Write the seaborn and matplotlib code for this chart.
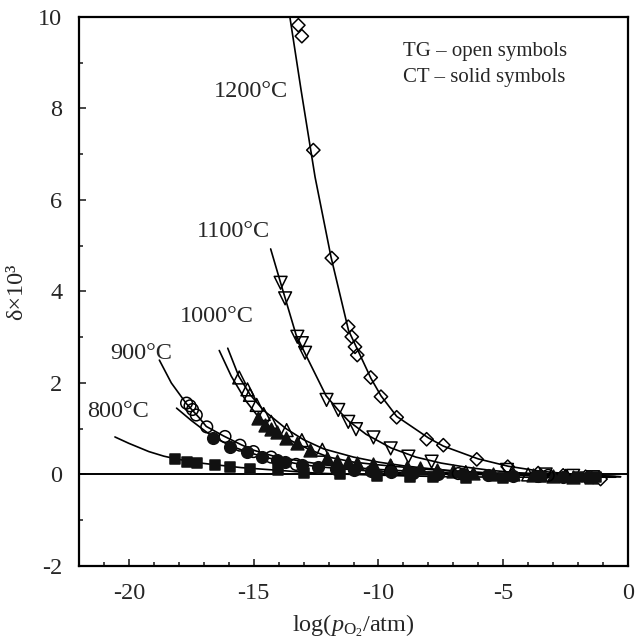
import numpy as np
import pandas as pd
import matplotlib
matplotlib.use('Agg')
import matplotlib.pyplot as plt
import seaborn as sns
from matplotlib.ticker import MultipleLocator

# ---------------- data ----------------
# 1200 C, TG (open diamonds)
x1200 = [-13.21, -13.07, -12.61, -11.87, -11.21, -11.07, -10.94, -10.85, -10.31, -9.90,
         -9.27, -8.07, -7.40, -6.06, -4.82, -3.6, -2.6, -1.7, -1.1]
y1200 = [9.82, 9.58, 7.09, 4.73, 3.23, 3.01, 2.79, 2.61, 2.12, 1.70,
         1.25, 0.77, 0.64, 0.33, 0.17, 0.03, -0.02, -0.05, -0.10]
# 1100 C, TG (open down-triangles)
x1100 = [-13.92, -13.74, -13.25, -13.07, -12.94, -12.08, -11.61, -11.21, -10.90, -10.20,
         -9.51, -8.80, -7.87, -4.85, -3.3, -2.2, -1.4]
y1100 = [4.19, 3.85, 3.01, 2.87, 2.66, 1.63, 1.41, 1.15, 0.99, 0.81,
         0.57, 0.39, 0.28, 0.10, 0.0, -0.03, -0.06]
# 1000 C, TG (open up-triangles)
x1000_tg = [-15.58, -15.25, -15.15, -14.88, -14.6, -14.3, -13.68, -13.07, -12.25, -9.5, -6.5, -4.0, -2.5]
y1000_tg = [2.12, 1.86, 1.74, 1.52, 1.32, 1.15, 0.97, 0.75, 0.54, 0.18, 0.05, 0.0, -0.03]
# 1000 C, CT (solid up-triangles)
x1000_ct = [-14.81, -14.55, -14.3, -14.08, -13.70, -13.28, -12.74, -12.08, -11.68, -11.21,
            -10.87, -10.20, -9.53, -8.87, -8.33, -7.66, -7.0, -6.2, -5.4, -4.6,
            -3.8, -3.0, -2.2, -1.5]
y1000_ct = [1.23, 1.08, 1.0, 0.92, 0.80, 0.68, 0.54, 0.35, 0.30, 0.28,
            0.24, 0.22, 0.20, 0.17, 0.14, 0.10, 0.07, 0.04, 0.02, 0.0,
            -0.02, -0.03, -0.05, -0.06]
# 900 C, TG (open circles)
x900_tg = [-17.69, -17.55, -17.45, -17.3, -16.88, -16.15, -15.55, -15.01, -14.3, -13.3, -9.5, -6.8, -3.2]
y900_tg = [1.56, 1.50, 1.42, 1.30, 1.04, 0.83, 0.64, 0.50, 0.38, 0.22, 0.08, 0.02, -0.02]
# 900 C, CT (solid circles)
x900_ct = [-16.62, -15.95, -15.28, -14.68, -14.08, -13.74, -13.08, -12.41, -11.7, -11.0,
           -10.3, -9.5, -8.6, -7.6, -6.6, -5.6, -4.6, -3.6, -2.6, -1.6]
y900_ct = [0.80, 0.61, 0.50, 0.39, 0.32, 0.28, 0.21, 0.17, 0.13, 0.10,
           0.08, 0.05, 0.03, 0.01, 0.0, -0.02, -0.03, -0.04, -0.05, -0.06]
# 800 C, CT (solid squares)
x800 = [-18.15, -17.69, -17.29, -16.55, -15.95, -15.15, -14.01, -13.0, -11.54, -10.07,
        -8.73, -7.8, -6.5, -5.0, -3.5, -2.0, -1.3]
y800 = [0.34, 0.28, 0.24, 0.21, 0.17, 0.13, 0.10, 0.04, 0.0, -0.03,
        -0.05, -0.06, -0.07, -0.07, -0.06, -0.05, -0.06]

# fitted curves
cx1200 = [-13.55, -13.1, -12.54, -11.9, -11.2, -10.3, -9.9, -9.27, -8.0, -7.4, -6.0, -4.8, -3.5, -2.5, -1.0, -0.3]
cy1200 = [10.0, 8.4, 6.5, 4.75, 3.15, 2.1, 1.72, 1.27, 0.8, 0.62, 0.34, 0.18, 0.07, 0.02, -0.03, -0.05]
cx1100 = [-14.32, -13.9, -13.3, -12.9, -12.1, -11.6, -11.2, -10.5, -9.5, -8.5, -7.5, -6.5, -5.5, -4.5, -3.0, -1.0, -0.3]
cy1100 = [4.93, 4.15, 3.05, 2.6, 1.72, 1.4, 1.17, 0.88, 0.58, 0.38, 0.25, 0.16, 0.09, 0.04, 0.0, -0.04, -0.05]
cx1000_ct = [-16.38, -15.9, -15.3, -14.8, -14.1, -13.3, -12.7, -12.0, -11.0, -10.0, -9.0, -8.0, -7.0, -5.5, -4.0, -2.0, -0.5]
cy1000_ct = [2.71, 2.15, 1.6, 1.25, 0.92, 0.68, 0.53, 0.38, 0.27, 0.21, 0.16, 0.11, 0.07, 0.03, 0.0, -0.03, -0.05]
cx1000_tg = [-16.04, -15.6, -15.15, -14.6, -13.7, -13.0, -12.2, -11.0, -10.0, -9.0, -8.0, -7.0, -5.5, -4.0, -2.0, -0.5]
cy1000_tg = [2.76, 2.15, 1.75, 1.4, 1.0, 0.76, 0.56, 0.38, 0.27, 0.19, 0.13, 0.08, 0.03, 0.0, -0.03, -0.05]
cx900_tg = [-18.78, -18.3, -17.7, -17.2, -16.9, -16.2, -15.5, -15.0, -14.2, -13.0, -12.0, -11.0, -10.0, -9.0, -7.5, -6.0, -4.0, -2.0, -0.5]
cy900_tg = [2.50, 2.0, 1.55, 1.25, 1.05, 0.84, 0.65, 0.53, 0.40, 0.28, 0.2, 0.15, 0.11, 0.08, 0.04, 0.01, -0.02, -0.04, -0.05]
cx900_ct = [-18.09, -17.5, -16.9, -16.6, -15.95, -15.3, -14.7, -14.1, -13.1, -12.4, -11.0, -9.5, -8.0, -6.0, -4.0, -2.0, -0.5]
cy900_ct = [1.45, 1.18, 0.93, 0.82, 0.63, 0.5, 0.4, 0.32, 0.22, 0.17, 0.1, 0.05, 0.02, 0.0, -0.02, -0.04, -0.05]
cx800 = [-20.56, -20.0, -19.2, -18.6, -18.1, -17.3, -16.5, -15.5, -14.0, -12.5, -11.0, -9.0, -7.0, -5.0, -3.0, -1.0, -0.5]
cy800 = [0.82, 0.68, 0.5, 0.4, 0.34, 0.26, 0.21, 0.15, 0.09, 0.03, 0.0, -0.03, -0.05, -0.06, -0.06, -0.06, -0.06]

temp_labels = ['1200°C', '1100°C', '1000°C', '900°C', '800°C']
legend_lines = ['TG – open symbols', 'CT – solid symbols']
x_ticks = [-20, -15, -10, -5, 0]
y_ticks = [-2, 0, 2, 4, 6, 8, 10]

# ---------------- style ----------------
sns.set_style('ticks')
plt.rcParams['font.family'] = ['Liberation Serif', 'DejaVu Serif']
plt.rcParams['mathtext.fontset'] = 'custom'
plt.rcParams['mathtext.rm'] = 'Liberation Serif'
plt.rcParams['mathtext.it'] = 'Liberation Serif:italic'

fig = plt.figure(figsize=(6.35, 6.38), dpi=100)
ax = fig.add_axes([0.1244, 0.1129, 0.8646, 0.8605])

# zero line
ax.axhline(0, color='black', lw=1.4, zorder=1)

# curves
curves = [(cx1200, cy1200), (cx1100, cy1100), (cx1000_ct, cy1000_ct), (cx1000_tg, cy1000_tg),
          (cx900_tg, cy900_tg), (cx900_ct, cy900_ct), (cx800, cy800)]
for cx, cy in curves:
    sns.lineplot(x=cx, y=cy, sort=False, estimator=None, color='black', lw=1.2, ax=ax, zorder=2)

# markers
lw_m = 1.1
sns.scatterplot(x=x1200, y=y1200, marker='D', s=46, facecolors='none', edgecolor='black', linewidth=lw_m, ax=ax, zorder=3)
sns.scatterplot(x=x1100, y=y1100, marker='v', s=85, facecolors='none', edgecolor='black', linewidth=lw_m, ax=ax, zorder=3)
sns.scatterplot(x=x1000_tg, y=y1000_tg, marker='^', s=85, facecolors='none', edgecolor='black', linewidth=lw_m, ax=ax, zorder=3)
sns.scatterplot(x=x1000_ct, y=y1000_ct, marker='^', s=85, color='#111111', edgecolor='#111111', linewidth=lw_m, ax=ax, zorder=3)
sns.scatterplot(x=x900_tg, y=y900_tg, marker='o', s=70, facecolors='none', edgecolor='black', linewidth=lw_m, ax=ax, zorder=3)
sns.scatterplot(x=x900_ct, y=y900_ct, marker='o', s=70, color='#111111', edgecolor='#111111', linewidth=lw_m, ax=ax, zorder=3)
sns.scatterplot(x=x800, y=y800, marker='s', s=60, color='#111111', edgecolor='#111111', linewidth=lw_m, ax=ax, zorder=3)

# temperature labels
fs = 17.5
ax.text(-13.62, 8.37, temp_labels[0], ha='right', va='center', fontsize=fs)
ax.text(-17.28, 5.31, temp_labels[1], ha='left', va='center', fontsize=fs)
ax.text(-17.95, 3.45, temp_labels[2], ha='left', va='center', fontsize=fs)
ax.text(-20.76, 2.65, temp_labels[3], ha='left', va='center', fontsize=fs)
ax.text(-21.68, 1.37, temp_labels[4], ha='left', va='center', fontsize=fs)

ax.text(-9.0, 9.24, legend_lines[0], ha='left', va='center', fontsize=15)
ax.text(-9.0, 8.68, legend_lines[1], ha='left', va='center', fontsize=15)

# axes
ax.set_xlim(-22, 0)
ax.set_ylim(-2, 10)
ax.set_xticks(x_ticks)
ax.set_yticks(y_ticks)
ax.set_xticklabels([str(t) for t in x_ticks])
ax.set_yticklabels([str(t) for t in y_ticks])
ax.xaxis.set_minor_locator(MultipleLocator(1))
ax.yaxis.set_minor_locator(MultipleLocator(1))
ax.tick_params(which='both', direction='in', top=False, right=False, labelsize=fs, width=1.2)
ax.tick_params(which='major', length=5)
ax.tick_params(axis='x', which='major', pad=12)
ax.tick_params(axis='y', which='major', pad=12)
ax.tick_params(which='minor', length=3)
for sp in ax.spines.values():
    sp.set_visible(True)
    sp.set_linewidth(1.6)
    sp.set_color('black')

ax.set_xlabel(r'log($p_{\mathrm{O_2}}$/atm)', fontsize=fs, labelpad=6)
ax.set_ylabel('δ×10³', fontsize=fs, labelpad=8)

fig.savefig('out.png', dpi=100)
